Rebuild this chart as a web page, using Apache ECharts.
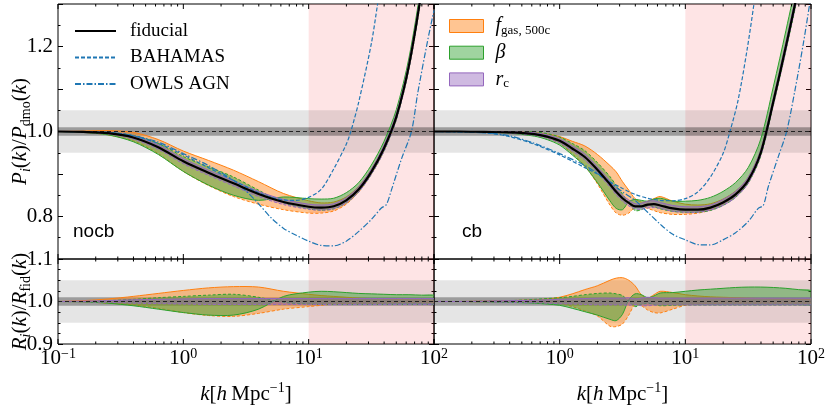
<!DOCTYPE html>
<html>
<head>
<meta charset="utf-8">
<script src="https://cdn.jsdelivr.net/npm/echarts@6/dist/echarts.min.js"></script>
<style>
    html, body { margin: 0; padding: 0; background: #fff; }
    #chart { width: 830px; height: 410px; }
</style>
</head>
<body>
<div id="chart"></div>
<script>
// sampling grids, log10 of k [h/Mpc]
var lkLeft = [-1, -0.8, -0.6, -0.4, -0.2, 0, 0.2, 0.4, 0.6, 0.8, 1.0, 1.1, 1.2, 1.3, 1.4, 1.5, 1.6, 1.7, 1.8, 1.9, 2.0];
var lkRight = [-1, -0.8, -0.6, -0.4, -0.2, -0.1, 0, 0.1, 0.2, 0.3, 0.4, 0.45, 0.5, 0.55, 0.6, 0.65, 0.7, 0.75, 0.8, 0.9, 1.0, 1.1, 1.2, 1.3, 1.4, 1.5, 1.6, 1.7, 1.8, 1.9, 2.0];

// nocb, P_i / P_dmo
var fidLeft = [1.0, 0.999, 0.996, 0.986, 0.963, 0.930, 0.903, 0.878, 0.853, 0.834, 0.823, 0.821, 0.824, 0.838, 0.864, 0.905, 0.960, 1.035, 1.155, 1.33, 1.55];
var fgasUpLeft = [1.0, 1.001, 1.002, 0.998, 0.981, 0.954, 0.932, 0.909, 0.882, 0.854, 0.837, 0.832, 0.834, 0.846, 0.871, 0.911, 0.966, 1.04, 1.16, 1.335, 1.555];
var fgasLoLeft = [1.0, 0.998, 0.992, 0.978, 0.948, 0.906, 0.873, 0.847, 0.829, 0.816, 0.808, 0.808, 0.813, 0.829, 0.858, 0.9, 0.955, 1.031, 1.151, 1.326, 1.545];
var betaUpLeft = [1.0, 0.998, 0.992, 0.976, 0.946, 0.906, 0.874, 0.85, 0.838, 0.846, 0.842, 0.841, 0.843, 0.856, 0.88, 0.921, 0.976, 1.052, 1.173, 1.35, 1.573];
var betaLoLeft = [1.0, 0.999, 0.998, 0.991, 0.972, 0.941, 0.917, 0.893, 0.862, 0.832, 0.818, 0.815, 0.818, 0.832, 0.858, 0.899, 0.953, 1.028, 1.147, 1.321, 1.54];
var rcUpLeft = [1.0, 1.0, 0.998, 0.99, 0.968, 0.936, 0.909, 0.884, 0.859, 0.84, 0.829, 0.827, 0.83, 0.844, 0.87, 0.911, 0.967, 1.042, 1.163, 1.339, 1.56];
var rcLoLeft = [1.0, 0.998, 0.994, 0.982, 0.958, 0.924, 0.897, 0.872, 0.847, 0.828, 0.817, 0.815, 0.818, 0.832, 0.858, 0.899, 0.953, 1.028, 1.147, 1.321, 1.54];

// nocb, R_i / R_fid
var fgasUpRatioLeft = [1.0, 1.002, 1.006, 1.012, 1.019, 1.026, 1.032, 1.035, 1.034, 1.024, 1.017, 1.014, 1.012, 1.01, 1.008, 1.007, 1.006, 1.005, 1.004, 1.004, 1.003];
var fgasLoRatioLeft = [1.0, 0.999, 0.996, 0.992, 0.984, 0.974, 0.967, 0.965, 0.972, 0.982, 0.988, 0.991, 0.994, 0.995, 0.996, 0.996, 0.996, 0.997, 0.997, 0.997, 0.997];
var betaUpRatioLeft = [1.0, 0.999, 0.996, 0.99, 0.982, 0.974, 0.968, 0.968, 0.982, 1.012, 1.022, 1.024, 1.023, 1.021, 1.019, 1.018, 1.017, 1.016, 1.016, 1.015, 1.015];
var betaLoRatioLeft = [1.0, 1.0, 1.002, 1.005, 1.009, 1.012, 1.015, 1.017, 1.01, 0.998, 0.994, 0.993, 0.993, 0.993, 0.993, 0.993, 0.993, 0.993, 0.993, 0.993, 0.993];
var rcUpRatioLeft = [1.0, 1.001, 1.002, 1.004, 1.005, 1.006, 1.007, 1.007, 1.007, 1.007, 1.007, 1.007, 1.007, 1.007, 1.007, 1.007, 1.007, 1.007, 1.007, 1.007, 1.007];
var rcLoRatioLeft = [1.0, 0.999, 0.998, 0.996, 0.995, 0.994, 0.993, 0.993, 0.993, 0.993, 0.993, 0.993, 0.993, 0.993, 0.993, 0.993, 0.993, 0.993, 0.993, 0.993, 0.993];

// cb, P_i / P_dmo
var fidRight = [1.0, 1.0, 0.999, 0.998, 0.994, 0.988, 0.978, 0.96, 0.94, 0.91, 0.876, 0.858, 0.843, 0.832, 0.824, 0.824, 0.828, 0.829, 0.826, 0.819, 0.816, 0.816, 0.821, 0.833, 0.852, 0.885, 0.95, 1.07, 1.2, 1.34, 1.52];
var fgasUpRight = [1.0, 1.0, 1.0, 1.0, 0.998, 0.994, 0.988, 0.977, 0.966, 0.946, 0.92, 0.905, 0.882, 0.862, 0.842, 0.834, 0.836, 0.842, 0.847, 0.836, 0.829, 0.827, 0.83, 0.841, 0.86, 0.892, 0.957, 1.076, 1.207, 1.347, 1.528];
var fgasLoRight = [1.0, 1.0, 0.998, 0.996, 0.991, 0.984, 0.972, 0.948, 0.919, 0.877, 0.827, 0.808, 0.803, 0.808, 0.822, 0.824, 0.819, 0.814, 0.809, 0.805, 0.805, 0.808, 0.815, 0.829, 0.848, 0.881, 0.946, 1.066, 1.195, 1.335, 1.514];
var betaUpRight = [1.0, 1.0, 0.998, 0.996, 0.989, 0.981, 0.968, 0.945, 0.918, 0.88, 0.837, 0.819, 0.816, 0.835, 0.84, 0.838, 0.836, 0.841, 0.843, 0.836, 0.836, 0.838, 0.845, 0.859, 0.88, 0.915, 0.982, 1.105, 1.237, 1.378, 1.56];
var betaLoRight = [1.0, 1.0, 1.0, 1.0, 0.999, 0.995, 0.987, 0.972, 0.955, 0.927, 0.894, 0.873, 0.853, 0.832, 0.814, 0.816, 0.825, 0.823, 0.818, 0.812, 0.81, 0.81, 0.814, 0.826, 0.845, 0.878, 0.942, 1.061, 1.19, 1.329, 1.508];
var rcUpRight = [1.0, 1.0, 1.0, 1.0, 0.997, 0.992, 0.983, 0.966, 0.947, 0.917, 0.883, 0.865, 0.85, 0.839, 0.83, 0.831, 0.836, 0.837, 0.833, 0.826, 0.823, 0.823, 0.827, 0.84, 0.859, 0.892, 0.957, 1.078, 1.21, 1.35, 1.53];
var rcLoRight = [1.0, 1.0, 0.998, 0.996, 0.991, 0.984, 0.973, 0.954, 0.933, 0.903, 0.869, 0.851, 0.836, 0.825, 0.818, 0.817, 0.82, 0.821, 0.819, 0.812, 0.81, 0.81, 0.815, 0.826, 0.845, 0.878, 0.943, 1.062, 1.19, 1.33, 1.51];

// cb, R_i / R_fid
var fgasUpRatioRight = [1.0, 1.0, 1.001, 1.002, 1.004, 1.006, 1.01, 1.018, 1.028, 1.037, 1.05, 1.055, 1.056, 1.05, 1.037, 1.016, 1.008, 1.016, 1.024, 1.021, 1.016, 1.013, 1.011, 1.01, 1.009, 1.008, 1.007, 1.006, 1.006, 1.005, 1.005];
var fgasLoRatioRight = [1.0, 1.0, 0.999, 0.999, 0.998, 0.997, 0.995, 0.988, 0.978, 0.966, 0.942, 0.941, 0.947, 0.968, 0.993, 0.99, 0.98, 0.974, 0.973, 0.982, 0.991, 0.994, 0.995, 0.996, 0.996, 0.996, 0.996, 0.996, 0.996, 0.996, 0.996];
var betaUpRatioRight = [1.0, 1.0, 0.999, 0.998, 0.996, 0.994, 0.991, 0.984, 0.976, 0.968, 0.958, 0.955, 0.97, 1.004, 1.018, 1.016, 1.009, 1.013, 1.02, 1.021, 1.024, 1.027, 1.029, 1.031, 1.033, 1.034, 1.034, 1.033, 1.031, 1.028, 1.026];
var betaLoRatioRight = [1.0, 1.0, 1.001, 1.002, 1.005, 1.007, 1.009, 1.012, 1.016, 1.019, 1.02, 1.018, 1.014, 1.0, 0.988, 0.993, 0.996, 0.993, 0.99, 0.991, 0.992, 0.992, 0.992, 0.992, 0.992, 0.992, 0.992, 0.992, 0.992, 0.992, 0.992];
var rcUpRatioRight = [1.0, 1.0, 1.001, 1.002, 1.003, 1.004, 1.005, 1.006, 1.007, 1.008, 1.008, 1.008, 1.008, 1.009, 1.006, 1.008, 1.01, 1.009, 1.008, 1.008, 1.008, 1.008, 1.008, 1.008, 1.008, 1.008, 1.008, 1.008, 1.008, 1.008, 1.008];
var rcLoRatioRight = [1.0, 1.0, 0.999, 0.998, 0.997, 0.996, 0.995, 0.994, 0.993, 0.992, 0.992, 0.992, 0.992, 0.991, 0.993, 0.99, 0.99, 0.991, 0.992, 0.992, 0.992, 0.992, 0.992, 0.992, 0.992, 0.992, 0.992, 0.992, 0.992, 0.992, 0.992];

// hydro simulations
var bahamasLkLeft = [-1, -0.6, -0.4, -0.2, 0, 0.2, 0.4, 0.6, 0.7, 0.8, 0.9, 1.0, 1.1, 1.2, 1.3, 1.336, 1.4, 1.5, 1.55, 1.6];
var bahamasLeft = [1.0, 0.998, 0.99, 0.972, 0.945, 0.915, 0.885, 0.856, 0.845, 0.839, 0.838, 0.845, 0.864, 0.912, 0.97, 1.0, 1.07, 1.207, 1.3, 1.4];
var owlsLkLeft = [-1, -0.6, -0.4, -0.2, 0, 0.2, 0.4, 0.5, 0.6, 0.7, 0.8, 0.9, 1.0, 1.1, 1.2, 1.3, 1.4, 1.5, 1.58, 1.62, 1.66, 1.74, 1.82, 1.87, 1.95, 2.0];
var owlsLeft = [1.0, 0.998, 0.99, 0.975, 0.948, 0.92, 0.885, 0.86, 0.83, 0.797, 0.772, 0.756, 0.742, 0.732, 0.731, 0.742, 0.765, 0.793, 0.82, 0.828, 0.862, 0.935, 1.0, 1.09, 1.215, 1.285];
var bahamasLkRight = [-1, -0.6, -0.4, -0.2, 0, 0.2, 0.3, 0.4, 0.5, 0.6, 0.7, 0.8, 0.9, 1.0, 1.1, 1.2, 1.3, 1.355, 1.42, 1.49, 1.546, 1.6];
var bahamasRight = [1.0, 0.997, 0.988, 0.97, 0.945, 0.915, 0.9, 0.882, 0.866, 0.852, 0.843, 0.838, 0.837, 0.842, 0.858, 0.893, 0.948, 1.0, 1.074, 1.19, 1.3, 1.42];
var owlsLkRight = [-1, -0.6, -0.4, -0.2, 0, 0.2, 0.3, 0.4, 0.5, 0.6, 0.7, 0.8, 0.9, 1.0, 1.1, 1.2, 1.3, 1.4, 1.5, 1.58, 1.62, 1.66, 1.74, 1.806, 1.873, 1.939, 2.0];
var owlsRight = [1.0, 0.997, 0.99, 0.972, 0.948, 0.92, 0.902, 0.88, 0.858, 0.838, 0.81, 0.782, 0.758, 0.745, 0.734, 0.733, 0.745, 0.762, 0.788, 0.819, 0.826, 0.87, 0.941, 1.0, 1.098, 1.207, 1.32];

// x ticks
var majorK = [0.1, 1, 10, 100];
var minorK = [0.2, 0.3, 0.4, 0.5, 0.6, 0.7, 0.8, 0.9, 2, 3, 4, 5, 6, 7, 8, 9, 20, 30, 40, 50, 60, 70, 80, 90];

var serif = '"Liberation Serif", "Times New Roman", serif';
var sans = '"Liberation Sans", Arial, sans-serif';
var blue = '#1f77b4';
var orange = '#ff7f0e', green = '#2ca02c', purple = '#9467bd';
var orangeFill = 'rgba(255,127,14,0.45)';
var greenFill = 'rgba(44,160,44,0.45)';
var purpleFill = 'rgba(148,103,189,0.45)';

function toK(lk) { return Math.pow(10, lk); }

function curve(name, idx, lks, vals, lineStyle, z) {
    return {
        type: 'line', name: name, xAxisIndex: idx, yAxisIndex: idx,
        data: lks.map(function (lk, i) { return [toK(lk), vals[i]]; }),
        smooth: 0.3, symbol: 'none', clip: true, silent: true,
        itemStyle: {color: lineStyle.color},
        lineStyle: lineStyle, z: z
    };
}

// filled band between two edges, solid line on one edge and dashed on the other
function band(name, idx, lks, solid, dashed, color, fill) {
    var data = lks.map(function (lk, i) { return [toK(lk), solid[i], dashed[i]]; });
    return {
        type: 'custom', name: name, xAxisIndex: idx, yAxisIndex: idx, z: 3, silent: true,
        itemStyle: {color: fill}, encode: {x: 0, y: [1, 2]}, data: data,
        renderItem: function (params, api) {
            if (params.dataIndex !== 0) return null;
            var up = data.map(function (d) { return api.coord([d[0], d[1]]); });
            var lo = data.map(function (d) { return api.coord([d[0], d[2]]); });
            var cs = params.coordSys;
            return {
                type: 'group',
                clipPath: {type: 'rect', shape: {x: cs.x, y: cs.y, width: cs.width, height: cs.height}},
                children: [
                    {type: 'polygon', shape: {points: up.concat(lo.slice().reverse()), smooth: 0.3}, style: {fill: fill}},
                    {type: 'polyline', shape: {points: up, smooth: 0.3}, style: {stroke: color, lineWidth: 1, fill: null}},
                    {type: 'polyline', shape: {points: lo, smooth: 0.3}, style: {stroke: color, lineWidth: 1, lineDash: [3, 2], fill: null}}
                ]
            };
        }
    };
}

function backdrop(idx) {
    return {
        type: 'line', xAxisIndex: idx, yAxisIndex: idx, data: [[1, 1]], symbol: 'none', silent: true,
        lineStyle: {opacity: 0}, z: 1,
        markArea: {
            silent: true, label: {show: false},
            data: [
                [{xAxis: 10, itemStyle: {color: 'rgba(245,30,45,0.12)'}}, {xAxis: 100}],
                [{yAxis: 0.95, itemStyle: {color: 'rgba(0,0,0,0.1)'}}, {yAxis: 1.05}],
                [{yAxis: 0.99, itemStyle: {color: 'rgba(0,0,0,0.32)'}}, {yAxis: 1.01}]
            ]
        }
    };
}

function unityLine(idx) {
    return {
        type: 'line', xAxisIndex: idx, yAxisIndex: idx, data: [[1, 1]], symbol: 'none', silent: true,
        lineStyle: {opacity: 0}, z: 8,
        markLine: {
            silent: true, symbol: 'none', label: {show: false},
            lineStyle: {color: '#222', type: [4, 3], width: 1.2},
            data: [{yAxis: 1}]
        }
    };
}

function tickMarks(idx) {
    var data = majorK.map(function (k) { return [k, 1, 1]; })
        .concat(minorK.map(function (k) { return [k, 1, 0]; }));
    return {
        type: 'custom', xAxisIndex: idx, yAxisIndex: idx, z: 10, silent: true,
        encode: {x: 0, y: 1}, data: data,
        renderItem: function (params, api) {
            var x = api.coord([api.value(0), 1])[0];
            var cs = params.coordSys;
            var len = api.value(2) ? 5 : 2.5;
            var st = {stroke: '#000', lineWidth: 1};
            return {
                type: 'group', children: [
                    {type: 'line', shape: {x1: x, y1: cs.y + cs.height, x2: x, y2: cs.y + cs.height - len}, style: st},
                    {type: 'line', shape: {x1: x, y1: cs.y, x2: x, y2: cs.y + len}, style: st}
                ]
            };
        }
    };
}

var mathRich = {
    i: {fontFamily: serif, fontStyle: 'italic', fontSize: 21, lineHeight: 26, color: '#000'},
    n: {fontFamily: serif, fontSize: 21, lineHeight: 26, color: '#000'},
    sub: {fontFamily: serif, fontSize: 14, lineHeight: 14, verticalAlign: 'bottom', color: '#000'},
    subi: {fontFamily: serif, fontStyle: 'italic', fontSize: 14, lineHeight: 14, verticalAlign: 'bottom', color: '#000'},
    s: {fontFamily: serif, fontSize: 14, lineHeight: 14, verticalAlign: 'top', color: '#000'}
};

function decadeLabel(v) {
    var e = Math.round(Math.log(v) / Math.LN10);
    return '{b|10}{s|' + (e < 0 ? '\u2212' + (-e) : e) + '}';
}

function xAxisFor(i) {
    var bottom = i >= 2;
    return {
        type: 'log', logBase: 10, gridIndex: i, min: 0.1, max: 100,
        axisLine: {show: false}, axisTick: {show: false}, splitLine: {show: false},
        axisLabel: {
            show: bottom, margin: 3, showMinLabel: i !== 3, formatter: decadeLabel,
            fontFamily: serif, fontSize: 21, color: '#000',
            rich: {
                b: {fontFamily: serif, fontSize: 21, lineHeight: 22, color: '#000'},
                s: {fontFamily: serif, fontSize: 14, lineHeight: 12, verticalAlign: 'top', color: '#000'}
            }
        },
        name: bottom ? '{i|k}{n|[}{i|h}{n|\u2009Mpc}{s|\u22121}{n|]}' : '',
        nameLocation: 'middle', nameGap: 37, nameMoveOverlap: false,
        nameTextStyle: {fontFamily: serif, rich: mathRich}
    };
}

function yAxisFor(i, right) {
    var top = i < 2;
    var labelled = !right && (i === 0 || i === 2);
    var title = '';
    if (labelled) {
        title = top
            ? '{i|P}{subi|i}{n|(}{i|k}{n|)/}{i|P}{sub|dmo}{n|(}{i|k}{n|)}'
            : '{i|R}{subi|i}{n|(}{i|k}{n|)/}{i|R}{sub|fid}{n|(}{i|k}{n|)}';
    }
    return {
        type: 'value', gridIndex: i, position: right ? 'right' : 'left',
        min: top ? 0.7 : 0.9, max: top ? 1.3 : 1.1, interval: 0.1,
        axisLine: {show: false}, splitLine: {show: false},
        axisTick: {show: true, inside: true, length: 5, lineStyle: {color: '#000'}},
        minorTick: {show: true, splitNumber: top ? 2 : 4, length: 2.5, lineStyle: {color: '#000'}},
        axisLabel: {
            show: labelled, margin: 5, color: '#000', fontFamily: serif, fontSize: 21,
            formatter: function (v) {
                var t = Math.round(v * 10);
                if (top && t !== 8 && t !== 10 && t !== 12) return '';
                return '{v|' + v.toFixed(1) + '}';
            },
            rich: {v: {fontFamily: serif, fontSize: 21, lineHeight: 22, color: '#000'}}
        },
        name: title, nameLocation: 'middle', nameRotate: 90, nameGap: 25, nameMoveOverlap: false,
        nameTextStyle: {fontFamily: serif, rich: mathRich}
    };
}

var gridBox = {show: true, borderColor: '#000', borderWidth: 1, containLabel: false, outerBoundsMode: 'none'};
var grids = [
    {left: 58, top: 4, width: 376, height: 255},
    {left: 434, top: 4, width: 377, height: 255},
    {left: 58, top: 259, width: 376, height: 85},
    {left: 434, top: 259, width: 377, height: 85}
].map(function (g) { return Object.assign({}, gridBox, g); });

var dashed = {color: blue, width: 1.2, type: [4, 2]};
var dashDot = {color: blue, width: 1.2, type: [6, 2, 1.5, 2]};
var solidBlack = {color: '#000', width: 2.2};

var series = [
    backdrop(0), backdrop(1), backdrop(2), backdrop(3),

    band('fgas', 0, lkLeft, fgasUpLeft, fgasLoLeft, orange, orangeFill),
    band('beta', 0, lkLeft, betaUpLeft, betaLoLeft, green, greenFill),
    band('rc', 0, lkLeft, rcUpLeft, rcLoLeft, purple, purpleFill),
    band('fgas', 1, lkRight, fgasUpRight, fgasLoRight, orange, orangeFill),
    band('beta', 1, lkRight, betaUpRight, betaLoRight, green, greenFill),
    band('rc', 1, lkRight, rcUpRight, rcLoRight, purple, purpleFill),
    band('fgas', 2, lkLeft, fgasUpRatioLeft, fgasLoRatioLeft, orange, orangeFill),
    band('beta', 2, lkLeft, betaUpRatioLeft, betaLoRatioLeft, green, greenFill),
    band('rc', 2, lkLeft, rcUpRatioLeft, rcLoRatioLeft, purple, purpleFill),
    band('fgas', 3, lkRight, fgasUpRatioRight, fgasLoRatioRight, orange, orangeFill),
    band('beta', 3, lkRight, betaUpRatioRight, betaLoRatioRight, green, greenFill),
    band('rc', 3, lkRight, rcUpRatioRight, rcLoRatioRight, purple, purpleFill),

    curve('BAHAMAS', 0, bahamasLkLeft, bahamasLeft, dashed, 4),
    curve('OWLS AGN', 0, owlsLkLeft, owlsLeft, dashDot, 4),
    curve('fiducial', 0, lkLeft, fidLeft, solidBlack, 5),
    curve('BAHAMAS', 1, bahamasLkRight, bahamasRight, dashed, 4),
    curve('OWLS AGN', 1, owlsLkRight, owlsRight, dashDot, 4),
    curve('fiducial', 1, lkRight, fidRight, solidBlack, 5),

    unityLine(0), unityLine(1), unityLine(2), unityLine(3),
    tickMarks(0), tickMarks(1), tickMarks(2), tickMarks(3)
];

var legendLabels = {
    fgas: '{i|f}{sub|gas, 500c}',
    beta: '{i|\u03b2}',
    rc: '{i|r}{sub|c}'
};

var option = {
    animation: false,
    textStyle: {fontFamily: serif},
    grid: grids,
    xAxis: [0, 1, 2, 3].map(xAxisFor),
    yAxis: [0, 1, 2, 3].map(function (i) { return yAxisFor(i, false); })
        .concat([0, 1, 2, 3].map(function (i) { return yAxisFor(i, true); })),
    legend: [{
        data: [
            {name: 'fiducial', itemStyle: {opacity: 0}},
            {name: 'BAHAMAS', itemStyle: {opacity: 0}},
            {name: 'OWLS AGN', itemStyle: {opacity: 0}}
        ],
        orient: 'vertical', left: 74, top: 20, padding: 0,
        itemWidth: 41, itemHeight: 14, itemGap: 4.5, selectedMode: false,
        formatter: function (name) { return '{t|' + name + '}'; },
        textStyle: {
            fontFamily: serif, fontSize: 19, lineHeight: 22, color: '#000', padding: [0, 0, 0, 9],
            rich: {t: {fontFamily: serif, fontSize: 19, lineHeight: 22, color: '#000'}}
        }
    }, {
        data: [
            {name: 'fgas', icon: 'rect', itemStyle: {color: orangeFill, borderColor: orange, borderWidth: 1}},
            {name: 'beta', icon: 'rect', itemStyle: {color: greenFill, borderColor: green, borderWidth: 1}},
            {name: 'rc', icon: 'rect', itemStyle: {color: purpleFill, borderColor: purple, borderWidth: 1}}
        ],
        orient: 'vertical', left: 449, top: 15, padding: 0,
        itemWidth: 34, itemHeight: 13, itemGap: 4.7, selectedMode: false,
        formatter: function (name) { return legendLabels[name]; },
        textStyle: {
            fontFamily: serif, fontSize: 20, lineHeight: 22, color: '#000', padding: [0, 0, 0, 7],
            rich: {
                i: {fontFamily: serif, fontStyle: 'italic', fontSize: 20, lineHeight: 22, color: '#000'},
                sub: {fontFamily: serif, fontSize: 13, lineHeight: 13, verticalAlign: 'bottom', color: '#000'}
            }
        }
    }],
    graphic: [
        {type: 'text', left: 73, top: 222, silent: true,
         style: {text: 'nocb', fontFamily: sans, fontSize: 19, fill: '#000'}},
        {type: 'text', left: 462, top: 222, silent: true,
         style: {text: 'cb', fontFamily: sans, fontSize: 19, fill: '#000'}}
    ],
    series: series
};

var chart = echarts.init(document.getElementById('chart'));
chart.setOption(option);
</script>
</body>
</html>
